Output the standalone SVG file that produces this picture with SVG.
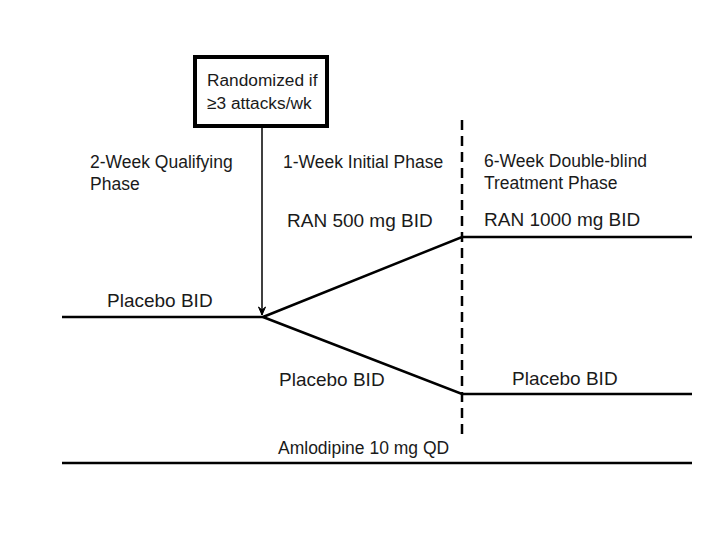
<svg xmlns="http://www.w3.org/2000/svg" width="720" height="540" viewBox="0 0 720 540">
<defs>
<style>
text{font-family:"Liberation Sans",Arial,sans-serif;fill:#1a1a1a;}
.h{font-size:17.5px;}
.l{font-size:19px;}
.b{font-size:17.3px;}
.ln{stroke:#000;stroke-width:2.5;fill:none;}
</style>
<marker id="ah" markerWidth="10" markerHeight="8" refX="9" refY="4" orient="auto" markerUnits="userSpaceOnUse">
<path d="M1,0.5 L9,4 L1,7.5 L4,4 Z" fill="#000" stroke="#000" stroke-width="1"/>
</marker>
</defs>
<rect width="720" height="540" fill="#fff"/>
<g id="connectors">
<line class="ln" x1="62" y1="317" x2="263" y2="317"/>
<polyline class="ln" points="263,317 462,237 692,237"/>
<polyline class="ln" points="263,317 462,394 692,394"/>
<line class="ln" x1="62" y1="463" x2="692" y2="463"/>
<line x1="462" y1="120" x2="462" y2="440" stroke="#000" stroke-width="2.5" stroke-dasharray="10,6"/>
<line x1="262" y1="128" x2="262" y2="315" stroke="#000" stroke-width="1.5" marker-end="url(#ah)"/>
</g>
<g id="randomized">
<rect x="195" y="57" width="132" height="69" fill="#fff" stroke="#000" stroke-width="4"/>
<text class="b" x="207" y="86">Randomized if</text>
<text class="b" x="207" y="109">≥3 attacks/wk</text>
</g>
<g id="qualifying">
<text class="h" x="90" y="168">2-Week Qualifying</text>
<text class="h" x="90" y="190">Phase</text>
</g>
<g id="initial">
<text class="h" x="283" y="168">1-Week Initial Phase</text>
</g>
<g id="doubleblind">
<text class="h" x="484" y="167">6-Week Double-blind</text>
<text class="h" x="484" y="189">Treatment Phase</text>
</g>
<g id="ran500"><text class="l" x="287" y="227">RAN 500 mg BID</text></g>
<g id="ran1000"><text class="l" x="484" y="226">RAN 1000 mg BID</text></g>
<g id="placebo1"><text class="l" x="107" y="307">Placebo BID</text></g>
<g id="placebo2"><text class="l" x="279" y="386">Placebo BID</text></g>
<g id="placebo3"><text class="l" x="512" y="385">Placebo BID</text></g>
<g id="amlodipine"><text class="h" x="278" y="454">Amlodipine 10 mg QD</text></g>
</svg>
